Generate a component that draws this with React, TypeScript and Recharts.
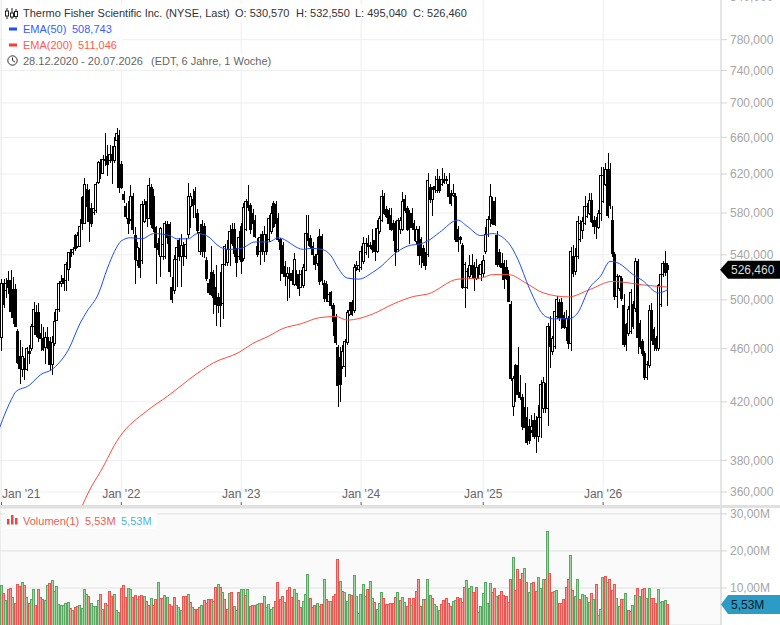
import { Bar, CartesianGrid, Cell, ComposedChart, Line, ReferenceDot, XAxis, YAxis } from 'recharts';

// weekly candles, prices in USD
const opens = [
  469,514,508,517,517,509,509,474,454,444, 452,444,458,460,478,489,489,472,468,461,
  469,466,448,464,483,492,514,519,517,527, 542,542,558,548,548,596,570,604,603,584,
  581,582,611,632,621,636,639,634,641,634, 656,662,630,599,586,575,574,597,558,535,
  546,535,572,592,575,606,597,566,551,538, 538,538,569,569,511,508,536,553,538,548,
  538,559,586,594,602,580,543,569,567,535, 514,524,522,511,502,499,497,531,533,545,
  564,564,541,538,
  567,537,564,592,587,580,573,548,543,559, 543,557,554,562,590,589,575,554,549,529,
  520,523,523,513,520,522,511,512,526,560, 555,548,538,532,557,557,514,513,499,506,
  495,485,461,453,446,446,465,488,498,491, 528,527,528,534,542,551,549,549,553,543,
  562,573,597,583,582,578,570,570,545,564, 564,594,584,580,580,570,552,564,554,546,
  540,540,606,594,607,603,614,609,614,614, 609,600,598,597,564,556,549,511,511,520,
  530,530,519,528,
  522,523,543,559,574,592,592,558,542,532, 532,528,520,496,417,447,447,427,423,416,
  409,403,400,407,407,396,409,415,431,415, 478,458,462,486,498,498,487,477,483,464,
  538,525,538,554,563,570,577,580,593,573, 573,566,580,592,609,625,625,573,540,503,
  510,519,495,479,472,474,496,493,534,480, 466,456,438,447,491,475,468,460,496,522,
  532,530.57,
];
const highs = [
  518,518,519,525,526,520,514,476,467,461, 453,461,463,480,498,496,497,480,477,473,
  477,469,470,490,498,516,522,522,533,543, 545,547,560,561,574,597,616,610,604,590,
  590,612,634,636,641,665,652,652,650,660, 671,668,634,602,590,592,608,600,566,552,
  566,592,594,597,616,610,604,567,556,566, 554,572,572,571,520,540,553,556,560,552,
  556,611,600,604,606,584,565,573,570,538, 518,548,526,531,506,524,533,550,554,568,
  570,570,546,562,
  570,590,594,608,590,584,578,556,559,562, 567,560,578,587,592,592,580,556,552,534,
  529,529,526,542,526,526,526,532,578,578, 559,552,541,557,564,560,517,516,506,508,
  497,488,463,461,463,468,491,498,500,532, 534,536,548,557,556,559,552,564,565,573,
  577,603,600,587,585,585,573,572,575,576, 601,598,587,583,585,573,567,567,557,549,
  543,621,609,606,618,625,618,626,621,618, 621,603,609,600,567,558,551,533,528,540,
  541,533,536,531,
  534,540,566,577,609,596,596,562,545,542, 535,535,526,499,439,448,461,440,426,434,
  416,408,411,412,410,418,436,438,434,481, 486,470,493,503,501,502,490,491,486,547,
  549,546,577,573,576,597,590,600,600,577, 576,583,627,627,632,643,632,587,543,523,
  522,521,505,481,495,509,499,537,536,483, 468,458,450,496,497,477,470,514,532,534,
  544,532.55,
];
const lows = [
  458,493,502,505,486,480,477,448,433,438, 436,443,448,458,477,469,465,458,458,448,
  460,443,440,462,482,490,511,508,508,516, 528,540,544,546,547,563,570,582,552,566,
  578,580,609,615,620,628,618,632,610,632, 655,600,604,590,574,560,572,560,514,530,
  519,532,570,566,574,565,561,514,540,520, 535,536,550,520,497,505,511,534,511,530,
  536,556,565,575,575,560,540,538,537,516, 504,503,488,478,489,477,484,530,530,530,
  548,538,520,535,
  523,534,562,582,560,565,556,538,531,540, 533,540,552,560,565,568,552,516,520,512,
  499,502,513,512,512,503,510,510,525,548, 545,538,526,530,513,513,498,498,496,492,
  470,463,416,420,444,438,463,486,486,489, 525,524,526,532,540,537,545,542,534,542,
  560,571,578,575,568,562,553,530,543,560, 562,580,562,550,564,553,550,531,528,530,
  526,538,590,577,600,600,600,607,609,609, 595,587,596,552,543,550,509,493,509,518,
  520,508,517,518,
  516,520,541,557,566,568,567,529,529,526, 509,517,498,435,410,420,423,421,400,400,
  390,391,398,394,385,392,395,412,412,403, 445,455,460,484,482,476,476,466,460,458,
  520,522,536,552,555,568,575,578,570,560, 555,564,572,590,607,575,584,538,500,493,
  508,499,461,458,470,472,476,490,456,460, 454,436,436,445,466,458,458,458,494,520,
  521,495.04,
];
const closes = [
  514,496,514,511,490,485,478,449,445,454, 444,460,456,478,492,471,469,468,459,469,
  465,448,465,482,492,514,516,514,531,542, 538,545,546,558,567,570,609,586,572,570,
  584,609,632,620,636,634,630,641,634,650, 665,606,606,594,577,570,597,564,536,547,
  528,589,589,575,608,569,565,547,545,565, 550,570,556,525,500,536,547,538,549,538,
  550,597,597,587,589,563,561,543,543,519, 506,505,502,496,495,495,531,548,545,562,
  551,541,533,556,
  534,585,592,585,564,570,557,540,556,543, 559,543,575,580,567,570,554,545,523,520,
  523,519,517,536,515,510,522,528,560,553, 548,540,531,540,516,517,501,501,505,495,
  482,465,432,433,458,466,489,491,488,528, 530,530,543,551,551,548,548,545,543,565,
  575,597,580,577,570,564,564,543,573,573, 592,582,564,567,566,564,564,539,539,533,
  530,613,594,604,604,614,603,614,611,613, 597,590,600,554,552,554,511,531,525,530,
  522,519,528,522,
  531,535,559,574,597,570,569,531,531,528, 518,519,499,437,437,427,425,423,403,402,
  392,393,403,396,396,409,433,434,415,478, 462,468,490,500,485,485,477,484,464,543,
  523,538,572,570,572,586,586,593,572,567, 567,580,618,618,625,578,587,541,503,520,
  520,501,463,463,492,506,478,534,469,462, 456,438,448,491,468,463,460,512,522,532,
  524,526.46,
];

// volume in millions, g = up week, r = down week
const volumes = [
  10.8,8.6,6.5,9.5,9.9,7.5,5.9,11,10.5,11.5, 10.8,7.3,5.9,6.9,9.6,5.4,9.5,7.5,7,6.6,
  10.7,11.3,12.1,9.1,10.5,5.6,5.3,5.4,5.7,6.1, 4.5,4,4.8,4.9,5.3,4.5,9.6,8.3,7.7,5.9,
  4.9,5,6.7,8.3,4.1,5.9,5.2,9.1,7.7,8.3, 4,3.5,9.9,10.7,7.5,9.9,9.5,7.4,8,6.8,
  7.8,8,7.7,6.3,5.4,7.2,5.4,6.8,11.5,7.2, 7.2,8,7.5,5.6,5,7.3,5.3,4.8,3.9,7.7,
  7.7,8.3,6.2,4.8,4.3,4.3,4.8,5.3,6.7,5.9, 6.9,6.9,6.3,10.2,11,10.2,8.9,6.8,4.3,8.6,
  8.8,5,3.8,8.9,9.6,9.5,8,9.5,5,5.3, 5.4,5.6,5.7,
  5.9,7.7,4.8,5.6,4.1,4.8,6.4,11.5,6.8,7.7, 6.1,9.2,10.2,7.5,9.6,8.6,6.7,4.6,6.4,8.3,
  13.7,7.2,4.8,5.3,5.9,5,5.6,12.3,6.8,6.4, 6.4,7.7,8.3,17.7,11.8,9.1,8.8,6.4,8.3,8,
  13.4,7.7,3.2,8.3,11,7.7,9.6,11.8,7.2,6.1, 4.1,5.9,8.8,7.2,5.6,5.6,5.9,5.9,7.5,8.8,
  6.7,7.5,6.1,5,7.2,5.3,7.2,9.1,12.3,5, 6.9,6.9,12.3,8,7.2,5.6,5,4,5.6,6.7,
  7.2,5.9,5,6.4,6.7,7.5,7.2,6.1,10.2,12.1, 9.9,10.5,8.8,10.2,3.4,5,8.6,11.5,5.9,11.3,
  8.8,9.9,7.7,8,9.1,8,7.7,6.1,12.3,18.3, 9.4,15,12.3,14,15.3,11.5,8.8,11.3,11.5,9.1,
  12.9,9.9,12.3,12.3,25.3,14,8.8,9,9.4,5.9,
  5.9,6.8,10.2,12.4,18.8,9.4,7.8,12.4,6.9,8.3, 7.9,7.5,6.2,8.6,6.8,11,2.7,4.2,12.7,13.2,
  11.5,12.2,9.2,11,7.2,5,6.8,7,8.6,4, 3.7,5.3,8,9.9,7.7,9.5,9.9,7.2,9.9,7.2,
  7.2,5.9,9.6,6.2,6.4,6.7,5.53,
];
const volumeSides = (
  'grgrrgrrrg' + 'rgrggrrrrg' + 'grgggggggg' + 'rgrrggggrg' + 'gggrgrgrrg' + 'ggrrrggrrg' +
  'rrgrrgrrgr' + 'rggrrrgggr' + 'rgrgrrrgrr' + 'rrgrgrgrrg' + 'rggrggrgrr' + 'rgg' +
  'rgggggrrrr' + 'grrrggrrgg' + 'grrrggrgrr' + 'grrrgrgggr' + 'ggggggrggr' + 'gggrrrrrrg' +
  'rggrrgrrrr' + 'grggrgggrr' + 'rrrggrrrrg' + 'ggrrgggggg' + 'rrgrrrrrrg' + 'rrrrgrggrr' + 'gggrgrrggr' +
  'rrrrgrggrg' + 'gggrgrgggr' + 'grrrggrrgr' + 'rggrgrrggr' + 'rrggggr'
).split('');

// moving averages, sampled at the weeks where they were read
const ema50Weeks = [-1,2,5,6,12,17,22,25,29,34,37,42,46,49,52,56,61,66,73,76,81,85,89,95,99,104,110,116,120,131,134,139,143,146,150,155,161,165,170,176,183,185,190,198,202,208,213,220,224,229,236,240,246,250,255,260,264,268,274,278,285,289];
const ema50Values = [401,413.5,424,427,432,440,444,449,459,480,490,505,528,543,553,556,555,560,558,555,555,560,558,547,545,546,552,552,556,545,546,545,539,528,519,518,524,530,540,548,551,553,561,573,567,558,560,551,536,510,486,484,484,489,510,521,534,532,522,517,506,508.74];
const ema200Weeks = [33,35,38,43,51,63,72,85,92,103,109,116,122,130,138,145,150,161,170,179,185,198,208,213,220,228,235,246,255,265,271,278,289];
const ema200Values = [345,351.5,360.6,373,395,413.5,424,441,449,457,464,470,476,480,485,486,483,488,496.5,503,505,518,519,522,522,514,506,502.5,508.7,516,515,513,511.05];

const priceTicks = [360,380,420,460,500,540,580,620,660,700,740,780,840];
const volumeTicks = [10,20,30];
const yearWeeks = [0,52,104,156,209,261];
const yearLabels = ["Jan '21","Jan '22","Jan '23","Jan '24","Jan '25","Jan '26"];

const weekDomain = [-0.65, 312.15];
const FONT = '"Liberation Sans", Arial, sans-serif';

const candleRows = closes.map((close, i) => ({
  week: i,
  wick: [lows[i], highs[i]],
  body: [Math.min(opens[i], close), Math.max(opens[i], close)],
  up: close >= opens[i],
}));
const volumeRows = volumes.map((volume, i) => ({ week: i, volume, side: volumeSides[i] }));
const ema50Rows = ema50Weeks.map((week, i) => ({ week, value: ema50Values[i] }));
const ema200Rows = ema200Weeks.map((week, i) => ({ week, value: ema200Values[i] }));

const YearTick = ({ x, y, payload, index }: any) => (
  <g>
    <line x1={x} x2={x} y1={y - 4} y2={y - 1} stroke="#666" />
    <text
      x={index === 0 ? x + 0.5 : x}
      y={y - 8}
      textAnchor={index === 0 ? 'start' : 'middle'}
      fontSize={12}
      fontFamily={FONT}
      fill="#666"
    >
      {yearLabels[yearWeeks.indexOf(payload.value)]}
    </text>
  </g>
);

const priceTag = ({ cx, cy }: any) => (
  <g>
    <path d={`M${cx - 1} ${cy} L${cx + 7} ${cy - 9} H780 V${cy + 9} H${cx + 7} Z`} fill="#000" />
    <text x={cx + 10} y={cy + 4.5} fontSize={12} fontFamily={FONT} fill="#ddd">526,460</text>
  </g>
);

const volumeTag = ({ cx, cy }: any) => (
  <g>
    <path d={`M${cx} ${cy} L${cx + 7} ${cy - 9.5} H780 V${cy + 9.5} H${cx + 7} Z`} fill="#2a9cc6" />
    <text x={cx + 10} y={cy + 4.5} fontSize={12} fontFamily={FONT} fill="#0b1a22">5,53M</text>
  </g>
);

const Label = ({ x, y, color, size = 11, children }: any) => (
  <span
    style={{
      position: 'absolute',
      left: x,
      top: y - 8,
      height: 16,
      lineHeight: '16px',
      fontSize: size,
      fontFamily: FONT,
      color,
      whiteSpace: 'nowrap',
    }}
  >
    {children}
  </span>
);

const Header = () => (
  <>
    <div style={{ position: 'absolute', left: 3, top: 4, width: 465, height: 17, background: 'rgba(255,255,255,0.8)' }} />
    <div style={{ position: 'absolute', left: 3, top: 21, width: 120, height: 32, background: 'rgba(255,255,255,0.8)' }} />
    <div style={{ position: 'absolute', left: 3, top: 53, width: 272, height: 16, background: 'rgba(255,255,255,0.8)' }} />
    <svg width={20} height={70} style={{ position: 'absolute', left: 0, top: 0 }}>
      <g stroke="#222" fill="none">
        <path d="M7 8V19M12 8V19M16 9V19" />
        <rect x={5.5} y={11} width={3} height={5} fill="#fff" />
        <rect x={10.5} y={13} width={3} height={4} fill="#fff" />
        <rect x={14.5} y={11.5} width={3} height={5} fill="#fff" />
      </g>
      <rect x={9} y={27.5} width={8} height={3} fill="#1f4dff" />
      <rect x={9} y={43.5} width={8} height={3} fill="#ff3b30" />
      <circle cx={12.5} cy={60.5} r={4.7} stroke="#333" fill="none" />
      <path d="M12.5 57.5V60.5L15 62" stroke="#333" fill="none" />
    </svg>
    <Label x={23} y={13} color="#333">Thermo Fisher Scientific Inc. (NYSE, Last)</Label>
    <Label x={235} y={13} color="#333">O: 530,570</Label>
    <Label x={296} y={13} color="#333">H: 532,550</Label>
    <Label x={355} y={13} color="#333">L: 495,040</Label>
    <Label x={413} y={13} color="#333">C: 526,460</Label>
    <Label x={23} y={29} color="#3a5cff">EMA(50)</Label>
    <Label x={72} y={29} color="#3a5cff">508,743</Label>
    <Label x={23} y={45} color="#ff5a4d">EMA(200)</Label>
    <Label x={78} y={45} color="#ff5a4d">511,046</Label>
    <Label x={23} y={61} color="#666">28.12.2020 - 20.07.2026</Label>
    <Label x={151} y={61} color="#666">(EDT, 6 Jahre, 1 Woche)</Label>
  </>
);

const VolumeHeader = () => (
  <>
    <div style={{ position: 'absolute', left: 5, top: 513, width: 152, height: 16, background: '#fff' }} />
    <svg width={20} height={12} style={{ position: 'absolute', left: 6, top: 514 }}>
      <rect x={1} y={5} width={2.5} height={5.5} fill="#e8483f" />
      <rect x={5} y={1} width={2.5} height={9.5} fill="#e8483f" />
      <rect x={9} y={4} width={2.5} height={6.5} fill="#e8483f" />
    </svg>
    <Label x={23} y={521} color="#f05a52">Volumen(1)</Label>
    <Label x={85} y={521} color="#f05a52">5,53M</Label>
    <Label x={121} y={521} color="#4fb3d9">5,53M</Label>
  </>
);

const App = () => (
  <div style={{ position: 'absolute', left: 0, top: 0, width: 780, height: 625, overflow: 'hidden', background: '#fff' }}>
    <div style={{ position: 'absolute', left: 0, top: -9 }}>
      <ComposedChart width={780} height={516} data={candleRows} margin={{ top: 0, right: 0, bottom: 0, left: 0 }}>
        <CartesianGrid xAxisId="body" stroke="#eee" />
        <XAxis
          xAxisId="body"
          dataKey="week"
          type="number"
          domain={weekDomain}
          allowDataOverflow
          ticks={yearWeeks}
          interval={0}
          height={1}
          axisLine={false}
          tickLine={false}
          tickSize={0}
          tickMargin={0}
          tick={<YearTick />}
        />
        <XAxis xAxisId="wick" dataKey="week" type="number" domain={weekDomain} allowDataOverflow ticks={yearWeeks} hide />
        <YAxis
          orientation="right"
          width={59}
          scale="log"
          domain={[351.5, 847.7]}
          allowDataOverflow
          ticks={priceTicks}
          interval={0}
          tickFormatter={(v: number) => `${v},000`}
          tick={{ fontSize: 12, fontFamily: FONT, fill: '#a5a5a5' }}
          stroke="#d5d5d5"
          tickSize={6}
          tickMargin={3}
        />
        <Bar xAxisId="wick" dataKey="wick" barSize={1} fill="#000" shapeRendering="crispEdges" isAnimationActive={false} />
        <Bar xAxisId="body" dataKey="body" barSize={2} stroke="#000" strokeWidth={1} shapeRendering="crispEdges" isAnimationActive={false}>
          {candleRows.map((row) => (
            <Cell key={row.week} fill={row.up ? '#fff' : '#000'} />
          ))}
        </Bar>
        <Line xAxisId="body" data={ema200Rows} dataKey="value" type="monotone" stroke="#ff4a3d" strokeWidth={1} dot={false} isAnimationActive={false} />
        <Line xAxisId="body" data={ema50Rows} dataKey="value" type="monotone" stroke="#1f4dff" strokeWidth={1} dot={false} isAnimationActive={false} />
        <ReferenceDot xAxisId="body" x={weekDomain[1]} y={526.46} r={1} ifOverflow="visible" shape={priceTag} />
      </ComposedChart>
    </div>
    <div style={{ position: 'absolute', left: 0, top: 505, width: 780, height: 3, background: '#e0e0e0' }} />
    <div style={{ position: 'absolute', left: 0, top: 508 }}>
      <ComposedChart width={780} height={117} data={volumeRows} margin={{ top: 0, right: 0, bottom: 0, left: 0 }}>
        <CartesianGrid stroke="#e0e0e0" fill="#fafafa" />
        <XAxis
          dataKey="week"
          type="number"
          domain={weekDomain}
          allowDataOverflow
          ticks={yearWeeks}
          interval={0}
          height={0}
          axisLine={false}
          tickLine={false}
          tick={false}
        />
        <YAxis
          orientation="right"
          width={59}
          domain={[0, 31.6]}
          allowDataOverflow
          ticks={volumeTicks}
          interval={0}
          tickFormatter={(v: number) => `${v},00M`}
          tick={{ fontSize: 12, fontFamily: FONT, fill: '#a5a5a5' }}
          stroke="#d5d5d5"
          tickSize={6}
          tickMargin={3}
        />
        <Bar dataKey="volume" barSize={2} strokeWidth={1} shapeRendering="crispEdges" isAnimationActive={false}>
          {volumeRows.map((row) => (
            <Cell
              key={row.week}
              fill={row.side === 'g' ? '#a3d6a3' : '#f99a98'}
              stroke={row.side === 'g' ? '#5aa863' : '#ec5550'}
            />
          ))}
        </Bar>
        <ReferenceDot x={weekDomain[1]} y={5.53} r={1} ifOverflow="visible" shape={volumeTag} />
      </ComposedChart>
    </div>
    <Header />
    <VolumeHeader />
  </div>
);

export default App;
